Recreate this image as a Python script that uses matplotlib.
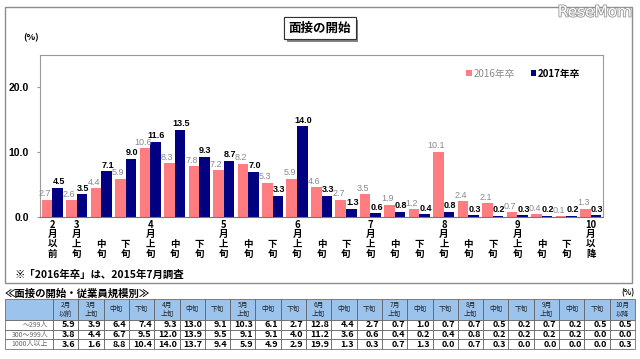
import numpy as np
import matplotlib.pyplot as plt
import matplotlib.patheffects as pe
from matplotlib.patches import Rectangle

plt.rcParams['font.family'] = ['Noto Sans CJK JP', 'DejaVu Sans']

# Categories (month + ten-day period)
months = ['2月', '3月', '', '', '4月', '', '', '5月', '', '', '6月', '', '',
          '7月', '', '', '8月', '', '', '9月', '', '', '10月']
parts = ['以前', '上旬', '中旬', '下旬', '上旬', '中旬', '下旬', '上旬', '中旬', '下旬',
         '上旬', '中旬', '下旬', '上旬', '中旬', '下旬', '上旬', '中旬', '下旬',
         '上旬', '中旬', '下旬', '以降']

# Chart series [%]
vals_2016 = [2.7, 2.6, 4.4, 5.9, 10.6, 8.3, 7.8, 7.2, 8.2, 5.3, 5.9, 4.6,
             2.7, 3.5, 1.9, 1.2, 10.1, 2.4, 2.1, 0.7, 0.4, 0.1, 1.3]
vals_2017 = [4.5, 3.5, 7.1, 9.0, 11.6, 13.5, 9.3, 8.7, 7.0, 3.3, 14.0, 3.3,
             1.3, 0.6, 0.8, 0.4, 0.8, 0.3, 0.2, 0.3, 0.2, 0.2, 0.3]

# Table by company size [%]
size_labels = ['～299人', '300～999人', '1000人以上']
size_299 = [5.9, 3.9, 6.4, 7.4, 9.3, 13.0, 9.1, 10.3, 6.1, 2.7, 12.8, 4.4,
            2.7, 0.7, 1.0, 0.7, 0.7, 0.5, 0.2, 0.7, 0.2, 0.5, 0.5]
size_999 = [3.8, 4.4, 6.7, 9.5, 12.0, 13.9, 9.5, 9.1, 9.1, 4.0, 11.2, 3.6,
            0.6, 0.4, 0.2, 0.4, 0.8, 0.2, 0.2, 0.2, 0.2, 0.0, 0.0]
size_1000 = [3.6, 1.6, 8.8, 10.4, 14.0, 13.7, 9.4, 5.9, 4.9, 2.9, 19.9, 1.3,
             0.3, 0.7, 1.3, 0.0, 0.7, 0.3, 0.0, 0.0, 0.0, 0.0, 0.3]

C_2016 = '#FF7C80'
C_2017 = '#000080'
W, H = 640, 359
NUM_FONT = ['Liberation Sans Narrow', 'Liberation Sans', 'DejaVu Sans']


def vertical(m, p):
    toks = [m[:-1], '月'] if m else []
    return '\n'.join(toks + list(p))


fig = plt.figure(figsize=(W / 100, H / 100), dpi=100)

# outer frame
fig.patches.append(Rectangle((5 / W, 1 - 283 / H), 627 / W, 276 / H,
                             transform=fig.transFigure, fill=False,
                             ec='#8c8c8c', lw=1.0))

# ─── bar chart ───
ax = fig.add_axes([40 / W, 1 - 217 / H, 563 / W, 162 / H])
x = np.arange(len(parts))
w = 0.43
b1 = ax.bar(x - w / 2, vals_2016, w, color=C_2016, label='2016年卒')
b2 = ax.bar(x + w / 2, vals_2017, w, color=C_2017, label='2017年卒')
lab1 = ax.bar_label(b1, fmt='%.1f', padding=1, fontsize=6.5, color='#8a8a8a',
                    family=NUM_FONT)
lab2 = ax.bar_label(b2, fmt='%.1f', padding=1, fontsize=6.5, color='black',
                    fontweight='bold', family=NUM_FONT)
for a in lab1:
    a.xyann = (-1.5, 1)
for a in lab2:
    a.xyann = (0.8, 1)

ax.set_xlim(-0.5, len(parts) - 0.5)
ax.set_ylim(0, 25)
ax.set_yticks([0, 10, 20])
ax.set_yticklabels(['0.0', '10.0', '20.0'], fontsize=7.5, fontweight='bold',
                   family=['Liberation Sans', 'DejaVu Sans'])
ax.tick_params(axis='y', length=2, color='#999999', pad=6)
ax.set_xticks(x)
ax.set_xticklabels([vertical(m, p) for m, p in zip(months, parts)],
                   fontsize=6.8, fontweight='bold', va='bottom', linespacing=0.95)
ax.tick_params(axis='x', length=0, pad=30)
for s in ax.spines.values():
    s.set_color('#9a9a9a')
    s.set_linewidth(0.8)
ax.spines['bottom'].set_color('#777777')

leg = ax.legend(loc='upper right', bbox_to_anchor=(0.975, 0.97), ncol=2,
                frameon=False, fontsize=7, handlelength=0.55, handleheight=0.55,
                handletextpad=0.2, columnspacing=1.6)
leg.get_texts()[0].set_color('#8a8a8a')
leg.get_texts()[1].set_fontweight('bold')

# title box
t = fig.text(320 / W, 1 - 28 / H, '面接の開始', ha='center', va='center',
             fontsize=9, fontweight='bold',
             bbox=dict(boxstyle='square,pad=0.35', fc='white', ec='#333333', lw=0.8))
t.get_bbox_patch().set_path_effects([pe.withSimplePatchShadow(offset=(2, -2),
                                                              shadow_rgbFace='#666666',
                                                              alpha=0.8),
                                     pe.Normal()])
fig.text(23 / W, 1 - 38 / H, '(%)', ha='left', va='center', fontsize=6.5,
         fontweight='bold')
fig.text(15 / W, 1 - 275 / H, '※「2016年卒」は、2015年7月調査', ha='left', va='center',
         fontsize=7.5, fontweight='bold')
fig.text(595 / W, 1 - 12 / H, 'ReseMom', ha='center', va='center', fontsize=11,
         color='white', family=['DejaVu Sans'],
         path_effects=[pe.withStroke(linewidth=1.3, foreground='#9a9a9a')])

# ─── table ───
fig.text(5 / W, 1 - 294 / H, '≪面接の開始・従業員規模別≫', ha='left', va='center',
         fontsize=7.5, fontweight='bold')
fig.text(634 / W, 1 - 293 / H, '(%)', ha='right', va='center', fontsize=5.5,
         fontweight='bold')

tax = fig.add_axes([5 / W, 1 - 349 / H, 630 / W, 50 / H])
tax.axis('off')
headers = [''] + [f'{m}\n{p}' if m else p for m, p in zip(months, parts)]
rows = [size_299, size_999, size_1000]
cell_text = [[lab] + [f'{v:.1f}' for v in r] for lab, r in zip(size_labels, rows)]
tbl = tax.table(cellText=cell_text, colLabels=headers,
                colWidths=[48] + [25.3] * len(parts), cellLoc='right',
                colLoc='center', bbox=[0, 0, 1, 1])
tbl.auto_set_font_size(False)
for (r, c), cell in tbl.get_celld().items():
    cell.set_edgecolor('#555555')
    cell.set_linewidth(0.5)
    txt = cell.get_text()
    if r == 0:
        cell.set_height(21)
        cell.set_facecolor('#9CC3EC')
        txt.set_fontsize(4.8)
        txt.set_linespacing(1.1)
        txt.set_color('#222222')
    else:
        cell.set_height(9.7)
        if c == 0:
            txt.set_fontsize(5)
            txt.set_color('#666666')
        else:
            txt.set_fontsize(6.5)
            txt.set_fontweight('bold')

fig.savefig('out.png', dpi=100)
